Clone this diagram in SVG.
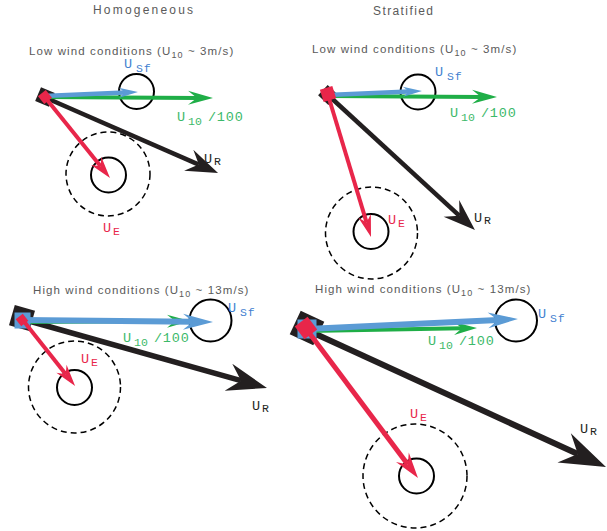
<svg xmlns="http://www.w3.org/2000/svg" width="607" height="531" viewBox="0 0 607 531">
<style>
.title{font-family:"Liberation Sans",Arial,sans-serif;font-size:12px;fill:#5a5a5a;}
.hdr{font-family:"Liberation Sans",Arial,sans-serif;font-size:11.5px;fill:#5a5a5a;letter-spacing:1.1px;}
.hsub{font-size:9px;}
.lbl{font-family:"Liberation Mono","Courier New",monospace;font-size:13.5px;}
.sub{font-size:11.5px;}
.sp{letter-spacing:0.8px;}
.cb{fill:#3f7fd0;} .cg{fill:#3cb96a;} .cr{fill:#e8264a;} .ck{fill:#231f20;}
.solid{fill:none;stroke:#000;stroke-width:2;}
.dash{fill:none;stroke:#000;stroke-width:1.5;stroke-dasharray:6 4;}
.ag{stroke:#1fae47;stroke-width:4;fill:none;}
.ab{stroke:#5b9bd5;stroke-width:4.5;fill:none;}
.abl{stroke:#5b9bd5;stroke-width:6;fill:none;}
.ak{stroke:#231f20;stroke-width:4.5;fill:none;}
.akl{stroke:#231f20;stroke-width:5.5;fill:none;}
.ar{stroke:#e8264a;stroke-width:4;fill:none;}
.arl{stroke:#e8264a;stroke-width:5;fill:none;}
</style>
<defs>
<marker id="mG" markerUnits="userSpaceOnUse" orient="auto" markerWidth="10" markerHeight="10" refX="0" refY="0" overflow="visible"><path d="M16,0 L-9,-7 L0,0 L-9,7 Z" fill="#1fae47"/></marker>
<marker id="mGs" markerUnits="userSpaceOnUse" orient="auto" markerWidth="10" markerHeight="10" refX="0" refY="0" overflow="visible"><path d="M15,0 L-8,-6.5 L0,0 L-8,6.5 Z" fill="#1fae47"/></marker>
<marker id="mB" markerUnits="userSpaceOnUse" orient="auto" markerWidth="10" markerHeight="10" refX="0" refY="0" overflow="visible"><path d="M13,0 L-6,-5 L0,0 L-6,5 Z" fill="#5b9bd5"/></marker>
<marker id="mBl" markerUnits="userSpaceOnUse" orient="auto" markerWidth="10" markerHeight="10" refX="0" refY="0" overflow="visible"><path d="M20,0 L-10,-8 L0,0 L-10,8 Z" fill="#5b9bd5"/></marker>
<marker id="mK" markerUnits="userSpaceOnUse" orient="auto" markerWidth="10" markerHeight="10" refX="0" refY="0" overflow="visible"><path d="M21,0 L-11,-11.5 L0,0 L-11,11.5 Z" fill="#231f20"/></marker>
<marker id="mKl" markerUnits="userSpaceOnUse" orient="auto" markerWidth="10" markerHeight="10" refX="0" refY="0" overflow="visible"><path d="M27,0 L-13,-14 L0,0 L-13,14 Z" fill="#231f20"/></marker>
<marker id="mKx" markerUnits="userSpaceOnUse" orient="auto" markerWidth="10" markerHeight="10" refX="0" refY="0" overflow="visible"><path d="M31,0 L-15,-16 L0,0 L-15,16 Z" fill="#231f20"/></marker>
<marker id="mR" markerUnits="userSpaceOnUse" orient="auto" markerWidth="10" markerHeight="10" refX="0" refY="0" overflow="visible"><path d="M15,0 L-7,-6.5 L0,0 L-7,6.5 Z" fill="#e8264a"/></marker>
<marker id="mRl" markerUnits="userSpaceOnUse" orient="auto" markerWidth="10" markerHeight="10" refX="0" refY="0" overflow="visible"><path d="M17,0 L-9,-8 L0,0 L-9,8 Z" fill="#e8264a"/></marker>
</defs>
<rect width="607" height="531" fill="#fff"/>

<g id="titles">
<text class="title" x="93" y="14" textLength="100" lengthAdjust="spacing">Homogeneous</text>
<text class="title" x="373" y="15" textLength="60" lengthAdjust="spacing">Stratified</text>
<text class="hdr" x="29" y="55">Low wind conditions (U<tspan class="hsub" dy="3">10</tspan><tspan dy="-3"> ~ 3m/s)</tspan></text>
<text class="hdr" x="312" y="53">Low wind conditions (U<tspan class="hsub" dy="3">10</tspan><tspan dy="-3"> ~ 3m/s)</tspan></text>
<text class="hdr" x="33" y="294">High wind conditions (U<tspan class="hsub" dy="3">10</tspan><tspan dy="-3"> ~ 13m/s)</tspan></text>
<text class="hdr" x="315" y="293">High wind conditions (U<tspan class="hsub" dy="3">10</tspan><tspan dy="-3"> ~ 13m/s)</tspan></text>
</g>

<!-- circles (nodes) -->
<g id="tl-circles">
<circle class="dash" cx="108" cy="174" r="42"/>
<circle class="solid" cx="108.5" cy="175" r="17.5"/>
<circle class="solid" cx="136.5" cy="91.5" r="17.5"/>
</g>
<g id="tr-circles">
<circle class="dash" cx="371.5" cy="233" r="46"/>
<circle class="solid" cx="371" cy="231.5" r="17.5"/>
<circle class="solid" cx="418" cy="92" r="17.5"/>
</g>
<g id="bl-circles">
<circle class="dash" cx="74.5" cy="387" r="46"/>
<circle class="solid" cx="74.5" cy="387.5" r="17.5"/>
<circle class="solid" cx="210.5" cy="320.5" r="21"/>
</g>
<g id="br-circles">
<circle class="dash" cx="415" cy="476" r="52"/>
<circle class="solid" cx="416.5" cy="476" r="17.5"/>
<circle class="solid" cx="516" cy="320.5" r="21"/>
</g>

<g id="connectors">
<!-- top-left -->
<line class="ak" x1="44" y1="97" x2="198.8" y2="164.6" marker-end="url(#mK)"/>
<rect x="-7.5" y="-7.5" width="15" height="15" fill="#231f20" transform="translate(45,97) rotate(23)"/>
<line class="ag" x1="44" y1="97" x2="197" y2="97.9" marker-end="url(#mG)"/>
<line class="ab" x1="44" y1="96" x2="125" y2="92.6" marker-end="url(#mB)"/>
<line class="ar" x1="44" y1="96" x2="100.6" y2="166.3" marker-end="url(#mR)"/>
<rect x="-5" y="-5" width="10" height="10" fill="#e8264a" transform="translate(45,97) rotate(51)"/>
<!-- top-right -->
<line class="ak" x1="328" y1="95" x2="459.5" y2="215.8" marker-end="url(#mK)"/>
<rect x="-7" y="-7" width="14" height="14" fill="#231f20" transform="translate(328,95) rotate(43)"/>
<line class="ag" x1="328" y1="96" x2="481" y2="96.9" marker-end="url(#mG)"/>
<line class="ab" x1="328" y1="95" x2="409" y2="91.55" marker-end="url(#mB)"/>
<line class="ar" x1="328" y1="95" x2="366.65" y2="222.6" marker-end="url(#mR)"/>
<rect x="-6.5" y="-6.5" width="13" height="13" fill="#e8264a" transform="translate(328,94) rotate(73)"/>
<!-- bottom-left -->
<line class="akl" x1="22" y1="319" x2="241" y2="380.7" marker-end="url(#mKl)"/>
<rect x="-10.5" y="-10.5" width="21" height="21" fill="#231f20" transform="translate(22,318) rotate(16)"/>
<line class="ag" x1="22" y1="322" x2="175" y2="321.1" marker-end="url(#mGs)"/>
<line class="abl" x1="22" y1="320" x2="193" y2="321.8" marker-end="url(#mBl)"/>
<rect x="14.5" y="312.5" width="16" height="16" fill="#5b9bd5"/>
<line class="ar" x1="22" y1="319" x2="65.8" y2="374.2" marker-end="url(#mR)"/>
<rect x="-4.5" y="-4.5" width="9" height="9" fill="#e8264a" transform="translate(22,320) rotate(52)"/>
<!-- bottom-right -->
<line class="akl" x1="307" y1="330" x2="577.8" y2="454.1" marker-end="url(#mKx)" style="stroke-width:6"/>
<rect x="-13" y="-13" width="26" height="26" fill="#231f20" transform="translate(307,328) rotate(25)"/>
<line class="ag" x1="307" y1="331" x2="462" y2="328.3" marker-end="url(#mGs)"/>
<line class="abl" x1="307" y1="329" x2="498" y2="319.9" marker-end="url(#mBl)"/>
<rect x="297.5" y="319.5" width="19" height="19" fill="#5b9bd5"/>
<line class="arl" x1="307" y1="330" x2="407.8" y2="464.4" marker-end="url(#mRl)"/>
<rect x="-8" y="-8" width="16" height="16" fill="#e8264a" transform="translate(306,328) rotate(53)"/>
</g>

<g id="labels">
<!-- top-left -->
<text class="lbl cb" x="124" y="68">U<tspan class="sub sp" dx="4" dy="4">Sf</tspan></text>
<text class="lbl cg" x="177" y="121">U<tspan class="sub" dx="3" dy="4">10</tspan><tspan class="sp" dx="6" dy="-4">/100</tspan></text>
<text class="lbl ck" x="204" y="163">U<tspan class="sub" dx="2" dy="2">R</tspan></text>
<text class="lbl cr" x="103" y="232">U<tspan class="sub" dx="2" dy="3">E</tspan></text>
<!-- top-right -->
<text class="lbl cb" x="435" y="76">U<tspan class="sub sp" dx="4" dy="4">Sf</tspan></text>
<text class="lbl cg" x="450" y="117">U<tspan class="sub" dx="3" dy="4">10</tspan><tspan class="sp" dx="6" dy="-4">/100</tspan></text>
<text class="lbl ck" x="474" y="222">U<tspan class="sub" dx="2" dy="2">R</tspan></text>
<text class="lbl cr" x="388" y="224">U<tspan class="sub" dx="2" dy="3">E</tspan></text>
<!-- bottom-left -->
<text class="lbl cb" x="228" y="312">U<tspan class="sub sp" dx="4" dy="4">Sf</tspan></text>
<text class="lbl cg" x="123" y="342">U<tspan class="sub" dx="3" dy="4">10</tspan><tspan class="sp" dx="6" dy="-4">/100</tspan></text>
<text class="lbl ck" x="252" y="410">U<tspan class="sub" dx="2" dy="2">R</tspan></text>
<text class="lbl cr" x="81" y="363">U<tspan class="sub" dx="2" dy="3">E</tspan></text>
<!-- bottom-right -->
<text class="lbl cb" x="538" y="318">U<tspan class="sub sp" dx="4" dy="4">Sf</tspan></text>
<text class="lbl cg" x="428" y="345">U<tspan class="sub" dx="3" dy="4">10</tspan><tspan class="sp" dx="6" dy="-4">/100</tspan></text>
<text class="lbl ck" x="580" y="433">U<tspan class="sub" dx="2" dy="2">R</tspan></text>
<text class="lbl cr" x="410" y="418">U<tspan class="sub" dx="2" dy="3">E</tspan></text>
</g>
</svg>
